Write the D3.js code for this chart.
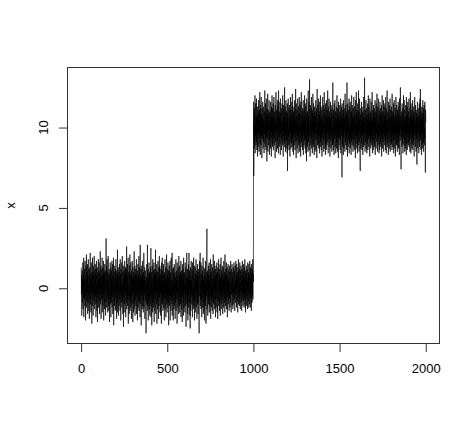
<!DOCTYPE html>
<html><head><meta charset="utf-8">
<script src="https://cdn.jsdelivr.net/npm/d3@7"></script>
<style>html,body{margin:0;padding:0;background:#fff;}svg{display:block;}</style>
</head><body><svg id="chart" width="474" height="428"></svg>
<script>
// first 1000 observations (level ~0)
const segmentLow = [
1.3,-0.4,0.8,-1.7,0.2,1.1,-0.9,0.5,-0.2,1.6,-1.3,0.1,0.9,-0.6,1.9,-1.8,0.3,-0.1,1.2,-0.7,
0.6,-1.1,1.7,-0.3,0.4,-2.0,0.9,1.4,-0.5,0.0,2.1,-1.2,0.7,-0.8,1.0,-0.2,1.5,-1.6,0.3,0.8,
-0.9,1.8,-0.4,0.2,-1.4,0.6,1.2,-1.9,0.5,-0.1,1.3,-0.7,2.2,-1.0,0.4,0.9,-1.5,0.1,1.6,-0.3,
0.7,-2.2,1.0,0.3,-0.6,1.9,-1.1,0.2,0.8,-1.7,1.4,-0.4,0.0,1.1,-0.8,2.0,-1.3,0.5,-0.2,0.9,
-1.0,1.5,-0.5,0.6,1.2,-1.8,0.3,-0.9,1.7,0.1,-1.4,0.8,-0.3,1.3,-2.1,0.4,1.0,-0.6,0.2,1.8,
-1.2,0.5,-0.1,1.6,-0.8,0.9,-1.6,0.3,1.1,-0.4,2.3,-1.0,0.6,-0.2,1.4,-1.9,0.7,0.2,-0.7,1.2,
-0.3,1.9,-1.5,0.4,0.8,-1.1,1.3,-0.6,0.0,1.7,-2.0,0.9,-0.4,1.0,0.3,-1.3,1.5,-0.9,0.6,-0.1,
1.1,-1.7,0.2,1.2,3.1,0.7,-1.2,1.4,0.1,-0.8,1.8,-0.3,0.5,-1.5,1.0,-0.6,2.0,-1.1,0.4,0.8,
-1.4,0.3,1.2,-0.2,-2.1,0.9,0.5,-0.7,1.6,-1.0,0.2,1.3,-1.8,0.6,-0.4,1.1,-0.9,0.0,1.7,-1.2,
0.4,-0.5,1.5,-1.6,0.8,0.1,-0.3,1.9,-2.3,0.7,1.0,-0.8,0.3,-1.1,1.4,-0.2,0.6,-1.4,1.2,0.0,
-0.6,1.8,-1.3,0.5,0.9,-1.9,1.1,-0.1,0.4,-0.9,2.4,-1.5,0.2,0.7,-0.4,1.3,-1.7,0.8,-0.2,1.0,
-1.1,0.6,1.5,-0.7,0.1,-1.4,1.8,-0.3,0.9,-2.0,0.4,1.2,-0.9,0.3,-0.5,1.6,-1.2,0.7,2.0,-0.8,
0.2,-1.6,1.0,-0.1,0.6,-2.4,1.4,0.5,-0.6,1.1,-1.0,0.3,1.7,-1.5,0.8,-0.2,0.0,1.3,-1.8,0.9,
-0.4,1.2,-0.9,2.6,-1.3,0.4,0.7,-0.7,1.5,-1.1,0.2,-0.3,1.9,-2.2,0.6,1.0,-0.5,0.1,-1.6,1.4,
0.3,-0.8,2.1,-1.4,0.5,0.9,-1.2,0.0,1.6,-0.6,0.8,-1.9,1.1,-0.1,0.4,-1.0,1.7,-0.4,0.7,-2.1,
1.3,-0.2,0.6,-1.5,1.0,0.2,-0.9,2.3,-1.3,0.5,-0.3,1.4,-1.7,0.8,0.1,-0.7,1.2,-1.1,0.9,-0.5,
1.8,-1.6,0.3,0.7,-0.4,1.1,-2.0,0.6,-0.1,1.5,-1.2,0.4,0.9,-0.8,2.0,-1.4,0.2,-0.6,1.3,-0.9,
0.5,-1.8,2.7,-0.2,0.8,-1.0,0.1,1.2,-2.3,0.7,-0.5,1.4,0.0,-1.3,0.9,-0.3,1.7,-1.1,0.4,0.6,
-1.5,1.0,-0.7,2.2,-1.2,0.3,0.8,-0.4,1.3,-1.9,0.5,-0.1,1.1,-0.8,0.2,-1.6,-2.8,-0.6,0.7,-1.0,
1.5,-0.3,0.1,-1.4,2.7,-1.1,0.6,-0.5,1.2,-2.0,0.9,0.4,-0.9,1.6,-1.3,0.2,1.0,-0.2,-1.7,0.8,
-0.6,1.3,-1.1,0.5,2.5,-1.8,0.3,-0.4,1.0,-2.3,0.7,1.4,-0.8,0.1,-1.5,1.8,-0.2,0.6,-1.2,1.1,
-0.9,0.4,1.6,-2.1,0.8,-0.3,1.2,-1.4,0.2,0.9,-0.7,2.4,-1.6,0.5,-0.1,1.1,-1.0,0.3,1.5,-2.2,
0.6,-0.4,1.0,-1.3,0.1,1.7,-0.8,0.4,-1.9,1.3,-0.2,0.7,-1.1,2.0,-0.6,0.2,1.4,-1.5,0.9,-0.3,
0.5,-1.7,1.2,-0.1,0.8,-2.2,1.6,-0.5,0.3,-1.0,1.9,-0.9,0.0,1.1,-1.4,0.6,-0.3,1.5,-1.2,0.4,
-0.7,1.0,-2.0,0.9,0.2,-0.6,1.8,-1.3,0.5,-0.2,1.3,-1.8,0.7,0.1,-1.0,2.1,-0.8,0.3,-1.5,1.2,
-0.4,0.8,-1.2,1.6,0.0,-0.9,1.1,-2.3,0.6,0.3,-0.5,1.4,-1.1,0.9,-0.1,1.7,-2.0,0.4,-0.7,1.0,
0.2,-1.4,1.9,-0.6,0.5,-1.0,0.8,2.2,-1.7,0.1,-0.3,1.2,-0.8,0.6,-2.0,1.3,-0.2,0.9,-1.3,0.4,
1.5,-1.1,0.3,-0.5,1.0,-1.9,0.7,0.2,-0.9,1.8,-1.4,0.5,-0.1,1.1,-0.7,0.4,-2.2,1.6,-0.3,0.8,
-1.2,0.6,1.3,-0.4,0.0,-1.6,2.0,-0.8,0.9,-1.1,0.3,1.4,-1.5,0.7,-0.2,1.0,-1.0,0.5,1.7,-1.8,
0.4,-0.6,1.1,-1.3,0.8,0.1,-2.1,1.5,-0.5,0.2,1.2,-0.9,0.6,-1.7,1.9,-0.3,0.9,-1.2,0.3,-0.1,
1.0,-1.5,0.5,1.6,-0.7,0.2,-1.1,1.3,-2.4,0.7,0.4,-0.3,2.2,-1.0,0.1,-0.8,1.2,-1.6,0.6,-2.0,
0.9,-0.4,1.5,-1.2,0.3,2.2,-0.9,0.6,-0.1,1.1,-1.7,0.4,-2.5,1.3,-0.6,0.8,-1.4,0.2,1.7,-0.3,
0.5,-1.0,1.2,-0.5,0.0,-1.8,1.6,0.3,-0.7,1.0,-1.3,0.7,1.9,-1.1,0.1,-0.4,1.4,-2.0,0.6,0.2,
-0.8,1.3,-1.5,0.4,0.9,-0.2,1.8,-1.2,0.5,-0.6,1.1,-1.9,0.8,0.0,-1.0,1.5,-0.3,0.7,-1.6,1.2,
0.3,-0.9,1.0,-1.4,-2.8,0.6,1.7,-0.5,0.1,1.3,2.2,-1.1,0.4,-0.7,1.6,-1.3,0.9,-0.1,0.5,-1.8,
1.4,-0.6,0.2,1.1,-1.2,0.7,-0.3,1.9,-1.6,0.5,0.0,-0.9,1.3,-1.4,0.8,0.3,-2.0,1.2,-0.4,0.6,
-1.1,1.7,-0.7,0.4,-2.2,1.0,0.2,-0.5,1.5,3.7,-1.3,0.6,-0.2,1.1,-1.7,0.9,0.1,-0.8,1.4,-1.0,
0.5,-0.3,1.6,-1.5,0.8,0.0,-1.1,1.2,-0.6,0.4,1.8,-1.9,0.7,-0.4,1.0,-1.2,0.3,1.5,-0.8,0.2,
-1.4,0.9,1.3,-0.5,0.6,-1.6,2.1,-0.9,0.1,1.1,-1.0,0.5,-0.2,1.7,-1.3,0.4,0.8,-0.7,1.2,-1.8,
0.6,-0.1,1.4,-1.2,0.3,0.9,-0.6,1.6,-1.5,0.2,1.0,-0.4,-1.9,1.3,0.7,-0.8,0.0,1.8,-1.1,0.5,
-0.3,1.2,-1.4,0.8,0.4,-0.9,1.5,-1.7,0.6,0.1,-0.5,1.9,-1.0,0.3,1.1,-1.3,0.7,-0.2,1.4,-0.7,
0.9,-1.6,0.2,1.3,-0.4,0.6,-1.2,1.7,-0.1,0.5,-0.9,1.0,0.4,-1.5,2.1,-0.6,0.8,-1.1,0.3,1.2,
-0.8,0.5,1.6,-1.3,0.1,0.9,-0.5,1.3,-1.8,0.7,0.2,-0.3,1.5,-1.0,0.6,-0.7,1.1,0.0,-1.4,0.8,
1.4,-0.6,0.3,-1.2,1.0,0.5,-0.9,1.7,-0.2,0.4,-1.5,1.2,0.8,-0.4,0.1,1.5,-1.1,0.6,-0.3,1.0,
-1.3,0.7,1.3,-0.5,0.2,-1.0,1.6,0.0,-0.7,1.1,0.4,-1.4,0.9,1.4,-0.2,0.5,-0.9,1.7,-0.4,0.3,
0.8,-1.2,1.5,-0.1,0.6,-0.8,1.0,0.2,-1.5,1.3,0.5,-0.3,1.8,-1.0,0.7,0.1,-0.6,1.2,-1.1,0.4,
1.6,-0.5,0.3,-1.3,1.1,0.6,-0.2,1.4,-0.9,0.8,0.0,-1.4,1.2,0.4,-0.7,1.7,-0.3,0.5,-1.1,1.0,
0.2,-0.8,1.5,-0.4,0.7,-1.2,1.3,0.1,-0.6,1.8,-1.0,0.6,0.3,-1.5,1.1,-0.2,0.9,-0.7,1.4,0.0,
-1.1,0.8,1.2,-0.5,0.4,-1.3,1.6,-0.1,0.7,-0.8,1.0,0.5,-1.2,1.5,-0.3,0.9,0.2,-1.0,1.7,-0.4,
0.6,-1.2,1.3,0.1,-0.6,1.0,0.4,-1.4,1.5,-0.2,0.8,-0.9,1.2,0.3,-0.5,1.8,-0.7,0.6,0.9,0.4
];
// observations 1001-2000 (level ~10)
const segmentHigh = [
11.6,7.0,10.4,9.3,11.2,8.7,10.9,9.8,12.0,8.4,10.1,9.5,11.5,10.3,8.9,10.7,9.1,11.8,10.0,8.6,
10.8,9.6,11.3,8.2,10.5,9.9,11.0,8.8,10.2,11.7,9.4,10.6,8.5,11.1,9.7,10.4,12.2,9.0,10.9,8.3,
11.4,9.2,10.1,8.9,11.9,10.3,9.5,10.8,8.1,11.2,9.8,10.6,9.3,11.6,10.0,8.7,10.5,9.1,11.3,9.9,
10.2,8.4,11.0,9.6,10.7,12.3,9.0,10.4,8.8,11.5,9.7,10.9,8.6,10.1,11.8,9.4,10.6,7.9,11.2,10.0,
9.3,11.4,12.1,8.5,10.8,9.9,11.1,8.9,10.3,9.6,11.7,10.2,8.3,10.9,9.2,11.0,9.8,10.5,8.7,11.6,
10.1,9.4,10.7,8.2,11.3,9.7,10.4,12.0,9.0,10.6,8.8,11.2,9.5,10.0,11.5,8.6,10.8,9.3,11.9,9.9,
10.3,8.9,11.0,9.6,10.5,8.1,11.4,10.2,9.1,10.9,12.2,9.7,10.4,8.5,11.1,9.8,10.6,9.2,11.7,8.7,
10.0,11.3,9.4,10.8,8.4,12.3,9.9,10.2,11.6,8.8,10.7,9.5,11.0,9.0,10.5,8.3,11.8,10.1,9.6,10.9,
9.3,11.2,8.6,10.4,9.8,11.5,10.0,8.9,10.7,12.0,9.1,10.3,8.2,11.4,9.7,10.6,9.4,11.1,8.8,10.2,
12.5,9.0,10.8,9.5,11.3,8.5,10.1,9.9,11.7,8.7,10.4,9.2,11.0,9.6,10.9,8.4,11.5,7.3,10.6,9.8,
10.3,11.8,8.9,10.0,9.4,11.2,8.6,10.7,9.7,11.4,10.2,8.2,10.5,9.1,11.9,9.8,10.8,8.7,11.1,9.5,
10.4,9.0,11.6,8.8,10.1,12.1,9.3,10.6,8.5,11.3,9.9,10.9,8.3,11.0,9.6,10.2,8.9,11.7,10.0,9.4,
11.2,8.6,10.5,9.7,12.4,9.1,10.3,8.1,11.5,9.8,10.7,9.2,11.1,8.7,10.0,9.5,11.8,10.4,8.4,10.8,
9.6,11.3,8.9,10.2,9.3,11.9,10.6,8.5,10.9,9.0,11.4,9.8,10.1,8.2,11.6,9.7,10.5,12.2,9.1,10.3,
8.8,11.0,9.4,10.7,8.6,11.2,10.0,9.5,11.7,8.3,10.4,9.9,11.1,8.9,10.8,9.2,12.0,9.6,10.2,8.7,
11.5,9.3,10.6,8.4,11.3,9.8,10.1,7.9,11.8,10.3,9.0,10.9,8.8,11.0,9.7,10.4,8.5,12.3,9.4,10.7,
9.1,11.6,10.2,8.6,10.8,13.0,9.5,10.0,8.2,11.4,9.9,10.5,8.9,11.2,9.3,10.6,11.9,8.7,10.3,9.6,
11.1,8.4,10.9,9.8,12.1,9.0,10.4,8.8,11.5,10.1,9.4,10.7,8.3,11.3,9.7,10.2,8.6,11.0,9.9,10.8,
9.2,11.7,8.5,10.5,9.6,11.2,10.0,8.1,10.9,12.4,9.3,10.3,8.9,11.4,9.8,10.6,9.0,11.8,8.7,10.1,
11.0,9.5,10.8,8.4,11.6,9.9,10.2,8.8,12.0,9.1,10.7,9.4,11.3,8.6,10.4,9.7,11.1,8.2,10.6,10.0,
9.3,11.9,8.9,10.3,9.8,11.4,10.5,8.5,10.9,9.2,12.2,9.6,10.1,8.7,11.2,9.9,10.6,8.3,11.5,10.2,
9.0,10.8,8.6,11.7,9.4,10.4,8.9,11.1,10.0,9.7,12.3,9.1,10.5,8.4,11.3,9.8,10.7,9.3,11.8,8.8,
10.2,9.5,11.0,8.2,10.6,9.9,11.6,9.2,10.3,8.7,11.4,10.1,9.6,10.9,8.5,11.2,9.4,10.0,8.9,11.9,
12.8,9.0,10.4,8.6,11.1,9.7,10.8,8.3,11.5,9.3,10.2,9.8,11.7,8.8,10.6,9.5,11.0,8.4,10.3,9.9,
11.3,8.7,10.5,9.1,12.0,9.6,10.9,8.5,11.2,10.0,9.4,10.7,8.1,11.6,9.8,10.2,8.9,11.4,9.3,10.6,
9.7,11.0,8.6,10.4,9.2,11.8,10.1,8.4,10.8,9.5,11.3,9.9,10.3,6.9,11.5,9.0,10.6,8.8,11.1,9.6,
10.2,8.3,11.7,9.4,10.9,8.7,11.2,10.0,9.8,10.5,8.5,12.1,9.1,10.7,9.6,11.4,8.9,10.1,9.3,11.0,
8.6,10.4,12.8,9.7,10.8,8.2,11.5,9.9,10.3,8.8,11.1,9.2,10.6,9.5,11.8,8.4,10.0,9.0,11.3,10.5,
9.4,11.6,8.7,10.2,9.8,11.0,8.3,10.9,9.1,12.0,9.6,10.4,8.9,11.4,10.1,9.3,10.7,8.5,11.2,9.7,
10.6,8.8,11.9,9.2,10.3,9.9,11.3,8.6,10.8,9.5,10.0,8.1,11.7,9.8,10.5,9.0,12.2,9.4,10.9,8.7,
11.1,9.6,10.2,8.4,11.5,10.0,9.3,10.7,8.9,12.3,9.7,11.0,8.5,10.4,9.1,11.8,9.9,10.6,8.2,7.3,
10.8,9.4,11.2,8.7,10.1,9.8,11.6,9.0,10.5,8.6,11.3,10.2,9.5,10.9,8.3,11.0,9.7,10.4,8.8,11.9,
9.2,10.6,8.9,11.4,13.1,9.6,10.3,8.5,11.1,9.9,10.7,9.1,11.7,8.7,10.0,9.4,11.2,8.4,10.8,9.8,
10.5,9.0,11.5,8.6,10.2,9.7,12.0,9.3,10.9,8.8,11.3,10.1,9.5,10.6,8.2,11.8,9.9,10.4,9.1,11.0,
8.7,10.8,9.4,11.6,10.0,8.9,10.5,9.6,12.2,9.2,10.3,8.4,11.1,9.8,10.7,8.6,11.4,10.2,9.0,10.9,
9.5,11.2,8.8,10.4,9.9,11.7,8.3,10.6,9.3,11.0,10.1,8.7,11.5,9.7,10.8,9.1,12.1,9.6,10.2,8.5,
11.3,9.4,10.0,8.9,11.8,10.5,9.2,10.7,8.4,11.1,9.8,10.3,8.6,11.6,9.5,10.9,9.0,11.2,10.4,8.8,
10.1,9.7,11.4,8.2,10.6,9.3,12.0,9.9,10.8,8.7,11.0,9.1,10.4,9.6,11.7,8.5,10.2,9.8,11.3,9.4,
10.7,8.9,11.5,10.0,9.2,10.9,8.6,11.9,9.7,10.3,8.4,11.2,9.5,10.6,9.0,12.3,9.8,10.1,8.8,11.0,
9.3,10.5,8.3,11.6,10.2,9.6,10.8,8.7,11.4,9.9,10.4,9.1,11.8,8.5,10.0,9.7,11.1,8.9,10.7,9.4,
11.3,9.0,10.6,8.6,12.1,9.8,10.3,8.8,11.0,9.5,10.9,9.2,11.5,8.4,10.5,9.9,11.7,8.7,10.1,9.6,
10.8,9.3,11.2,8.2,10.4,9.7,11.9,9.0,10.6,8.9,11.4,10.0,9.4,10.7,8.5,11.1,9.8,10.2,8.8,11.6,
9.1,10.9,8.7,11.3,9.6,10.4,8.3,11.8,10.1,9.5,10.7,9.2,12.5,9.9,10.5,8.6,7.4,10.0,11.0,9.4,
10.3,8.8,11.5,9.7,10.8,9.0,11.2,8.4,10.6,9.8,12.0,9.3,10.2,8.9,11.7,9.6,10.4,8.5,11.1,10.0,
9.2,10.7,8.7,11.4,9.9,10.1,8.3,11.9,9.5,10.5,9.0,11.3,8.6,10.8,9.7,11.6,9.4,10.3,8.9,11.0,
10.4,9.1,11.8,8.8,10.6,9.6,10.0,8.5,11.2,9.8,12.2,9.3,10.9,8.4,11.5,10.2,9.7,10.7,8.7,11.1,
9.0,10.5,9.4,11.7,8.6,10.3,9.9,11.3,8.9,10.8,9.2,11.0,8.2,10.6,9.7,11.9,10.1,9.5,10.4,8.8,
11.4,9.8,10.2,8.5,11.1,9.3,10.9,8.9,7.7,10.6,9.6,11.6,10.0,8.7,10.7,9.1,11.2,9.9,10.3,8.4,
10.8,9.5,11.5,8.8,10.1,9.7,11.8,9.2,12.4,9.4,10.5,8.6,11.0,9.9,10.6,8.3,11.3,9.6,10.2,9.0,
10.9,8.7,11.7,9.8,10.4,9.1,11.2,8.5,10.7,9.6,11.4,9.3,10.0,8.9,11.6,10.2,9.5,7.2,11.1,10.3
];
const xTicks = [0, 500, 1000, 1500, 2000];
const yTicks = [0, 5, 10];
const yLabel = "x";

const values = segmentLow.concat(segmentHigh);
const n = values.length;

const svg = d3.select("#chart");
svg.append("rect").attr("width", 474).attr("height", 428).attr("fill", "#fff");

const box = {left: 67.5, right: 439.5, top: 67.5, bottom: 343.5};
const font = "'Liberation Sans', Arial, Helvetica, sans-serif";

// R-style 4% axis extension
const xPad = (n - 1) * 0.04;
const x = d3.scaleLinear().domain([1 - xPad, n + xPad]).range([box.left, box.right]);
const [ymin, ymax] = d3.extent(values);
const yPad = (ymax - ymin) * 0.04;
const y = d3.scaleLinear().domain([ymin - yPad, ymax + yPad]).range([box.bottom, box.top]);

// data line
const line = d3.line().x((d, i) => x(i + 1)).y(d => y(d));
svg.append("path").datum(values)
  .attr("d", line)
  .attr("fill", "none")
  .attr("stroke", "#000")
  .attr("stroke-width", 0.65)
  .attr("stroke-linejoin", "round");

// box
svg.append("rect")
  .attr("x", box.left).attr("y", box.top)
  .attr("width", box.right - box.left).attr("height", box.bottom - box.top)
  .attr("fill", "none").attr("stroke", "#333").attr("stroke-width", 1);

// x axis
const xAxis = d3.axisBottom(x).tickValues(xTicks).tickSize(8.5).tickPadding(12).tickSizeOuter(0)
  .tickFormat(d3.format("d"));
const gx = svg.append("g").attr("transform", `translate(0,${box.bottom})`).call(xAxis);
gx.select(".domain").remove();
gx.append("line").attr("x1", x(xTicks[0])).attr("x2", x(xTicks[xTicks.length - 1]))
  .attr("y1", 0).attr("y2", 0).attr("stroke", "#333");
gx.selectAll(".tick line").attr("stroke", "#333");
gx.selectAll(".tick text").attr("fill", "#000").style("font-family", font).style("font-size", "13px");

// y axis
const yAxis = d3.axisLeft(y).tickValues(yTicks).tickSize(8.5).tickFormat("").tickSizeOuter(0);
const gy = svg.append("g").attr("transform", `translate(${box.left},0)`).call(yAxis);
gy.select(".domain").remove();
gy.append("line").attr("x1", 0).attr("x2", 0)
  .attr("y1", y(yTicks[0])).attr("y2", y(yTicks[yTicks.length - 1])).attr("stroke", "#333");
gy.selectAll(".tick line").attr("stroke", "#333");
svg.selectAll(".ylab").data(yTicks).enter().append("text")
  .attr("class", "ylab")
  .attr("transform", d => `translate(47.5,${y(d)}) rotate(-90)`)
  .attr("text-anchor", "middle")
  .style("font-family", font).style("font-size", "13px")
  .text(d => d);

// axis title
svg.append("text")
  .attr("transform", `translate(14.5,${(box.top + box.bottom) / 2}) rotate(-90)`)
  .attr("text-anchor", "middle")
  .style("font-family", font).style("font-size", "13px")
  .text(yLabel);
</script>
</body></html>
